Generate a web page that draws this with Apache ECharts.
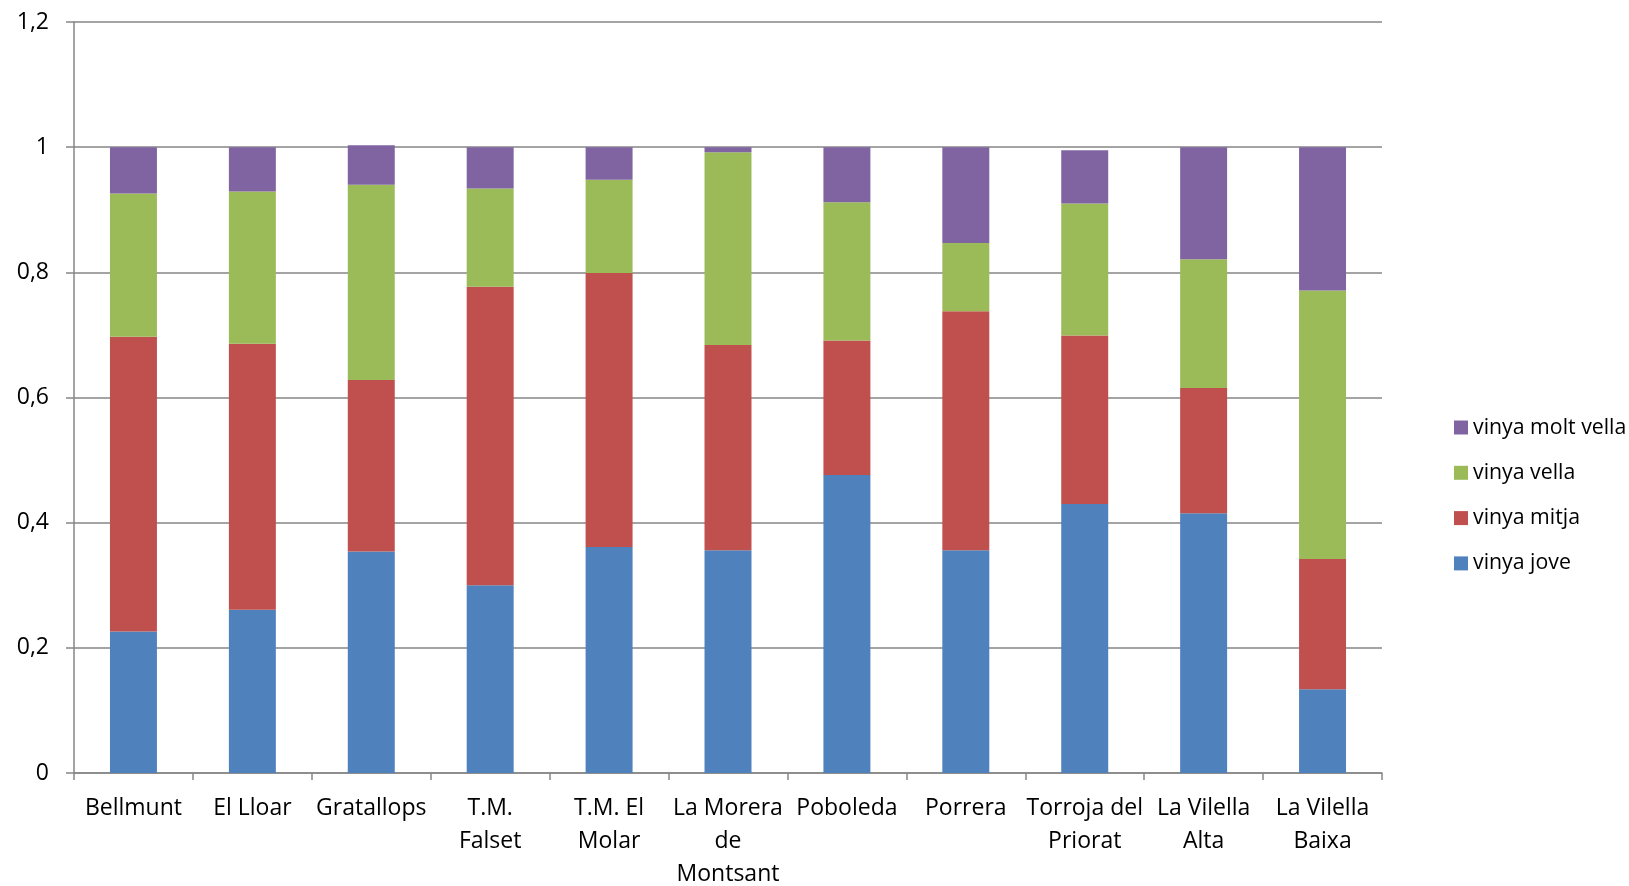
<!DOCTYPE html>
<html><head><meta charset="utf-8">
<script src="https://cdn.jsdelivr.net/npm/echarts@6/dist/echarts.min.js"></script>
<style>html,body{margin:0;padding:0;background:#fff;overflow:hidden}#c{width:1629px;height:886px}</style>
</head><body><div id="c"></div>
<script>
const categories = ["Bellmunt","El Lloar","Gratallops","T.M. Falset","T.M. El Molar","La Morera de Montsant","Poboleda","Porrera","Torroja del Priorat","La Vilella Alta","La Vilella Baixa"];
const categoryLabels = ["Bellmunt","El Lloar","Gratallops","T.M.\nFalset","T.M. El\nMolar","La Morera\nde\nMontsant","Poboleda","Porrera","Torroja del\nPriorat","La Vilella\nAlta","La Vilella\nBaixa"];
const vinyaJove      = [0.226,0.261,0.354,0.300,0.361,0.356,0.476,0.356,0.430,0.415,0.134];
const vinyaMitja     = [0.471,0.425,0.274,0.477,0.438,0.328,0.215,0.382,0.269,0.200,0.208];
const vinyaVella     = [0.229,0.243,0.312,0.157,0.149,0.308,0.221,0.109,0.211,0.206,0.429];
const vinyaMoltVella = [0.074,0.071,0.063,0.066,0.052,0.008,0.088,0.153,0.085,0.179,0.229];
const seriesNames = ["vinya jove","vinya mitja","vinya vella","vinya molt vella"];
const yTicks = [0,0.2,0.4,0.6,0.8,1,1.2];

const colors = ["#4F81BD","#C0504D","#9BBB59","#8064A2"];
const font = "'Open Sans', 'Liberation Sans', sans-serif";
const labelMap = {};
categories.forEach((c,i)=>labelMap[c]=categoryLabels[i]);
const dataSets = [vinyaJove, vinyaMitja, vinyaVella, vinyaMoltVella];

const chart = echarts.init(document.getElementById('c'), null, {renderer:'canvas'});
chart.setOption({
  animation:false,
  backgroundColor:'#fff',
  grid:{left:74, right:247, top:22, bottom:113, containLabel:false, outerBoundsMode:'none'},
  legend:{
    orient:'vertical', left:1449, top:412, itemWidth:14, itemHeight:14, itemGap:24.3,
    data:[...seriesNames].reverse(),
    textStyle:{fontFamily:font, fontSize:21.3, color:'#000'},
    icon:'rect'
  },
  xAxis:{
    type:'category', data:categories, boundaryGap:true,
    axisLine:{lineStyle:{color:'#868686', width:1.5}},
    axisTick:{show:true, alignWithLabel:false, length:7, lineStyle:{color:'#868686', width:1.5}},
    axisLabel:{interval:0, formatter:v=>labelMap[v], fontFamily:font, fontSize:23, color:'#000', lineHeight:33, margin:19}
  },
  yAxis:{
    type:'value', min:0, max:1.2, interval:0.2,
    axisLine:{show:true, lineStyle:{color:'#868686', width:1.5}},
    axisTick:{show:true, length:8, lineStyle:{color:'#868686', width:1.5}},
    splitLine:{lineStyle:{color:'#868686', width:1.5}},
    axisLabel:{fontFamily:font, fontSize:23, color:'#000', margin:25,
      formatter:v=>{const t=yTicks.find(x=>Math.abs(x-v)<1e-9); return String(Math.round((t??v)*10)/10).replace('.',',');}}
  },
  series: seriesNames.map((n,i)=>({
    name:n, type:'bar', stack:'total', barWidth:'39.5%',
    data:dataSets[i],
    itemStyle:{color:colors[i]}
  }))
});
</script></body></html>
